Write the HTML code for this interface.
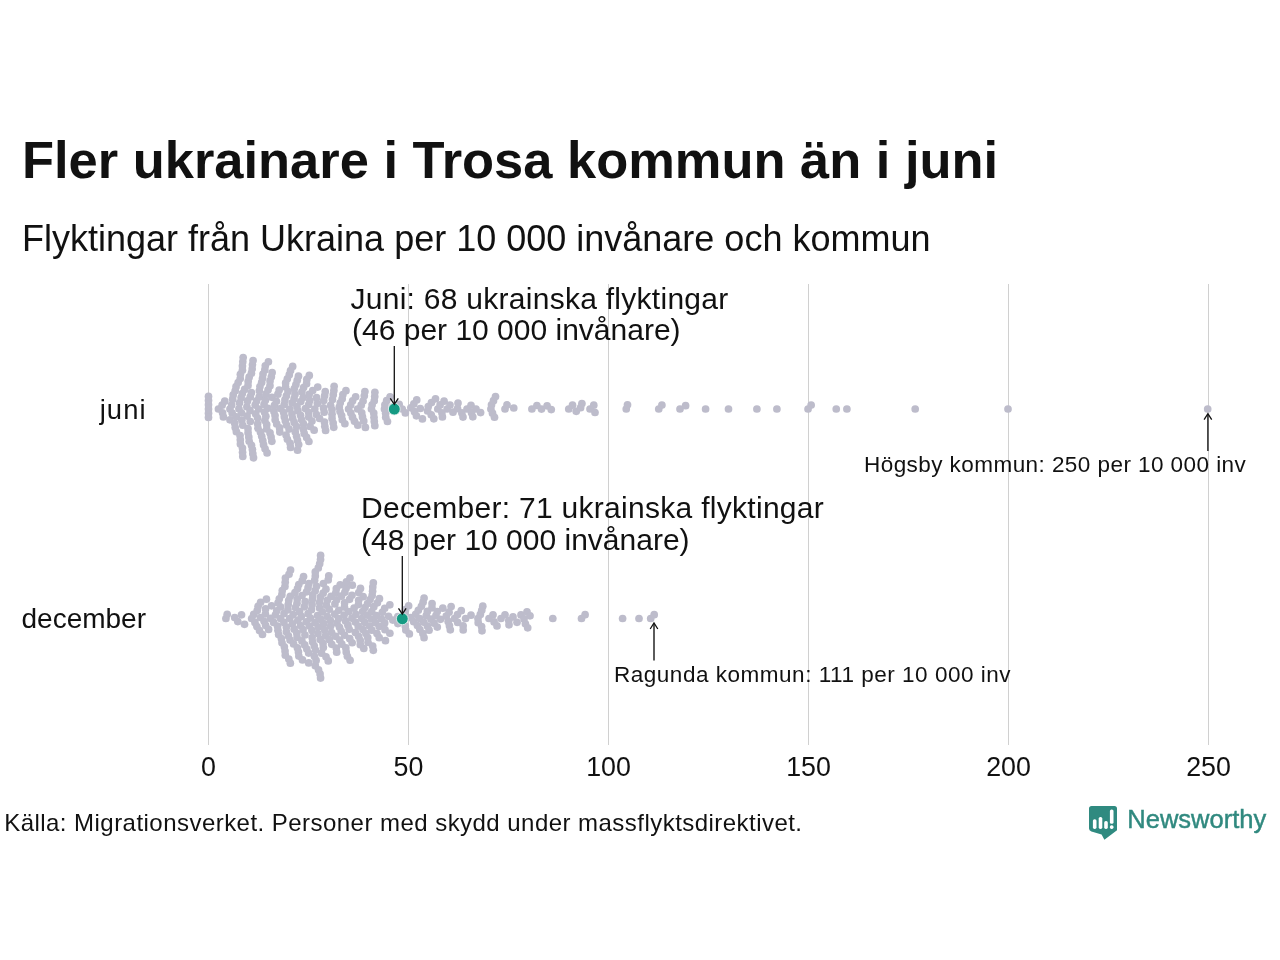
<!DOCTYPE html>
<html><head><meta charset="utf-8">
<style>
html,body{margin:0;padding:0;background:#fff;}
body{width:1280px;height:960px;overflow:hidden;}
svg{display:block;will-change:transform;}
text{font-family:"Liberation Sans",sans-serif;fill:#111;}
</style></head><body>
<svg width="1280" height="960" viewBox="0 0 1280 960">
<rect width="1280" height="960" fill="#fff"/>
<g stroke="#d0d0d0" stroke-width="1">
<line x1="208.5" y1="284" x2="208.5" y2="745"/>
<line x1="408.5" y1="284" x2="408.5" y2="745"/>
<line x1="608.5" y1="284" x2="608.5" y2="745"/>
<line x1="808.5" y1="284" x2="808.5" y2="745"/>
<line x1="1008.5" y1="284" x2="1008.5" y2="745"/>
<line x1="1208.5" y1="284" x2="1208.5" y2="745"/>
</g>
<g fill="#bdbccb"><circle cx="208.50" cy="409.00" r="3.85"/><circle cx="208.50" cy="404.80" r="3.85"/><circle cx="208.50" cy="413.20" r="3.85"/><circle cx="208.50" cy="400.60" r="3.85"/><circle cx="208.50" cy="417.40" r="3.85"/><circle cx="208.50" cy="396.40" r="3.85"/><circle cx="218.45" cy="409.00" r="3.85"/><circle cx="222.12" cy="405.16" r="3.85"/><circle cx="222.55" cy="412.74" r="3.85"/><circle cx="223.40" cy="416.92" r="3.85"/><circle cx="224.75" cy="401.15" r="3.85"/><circle cx="229.95" cy="409.00" r="3.85"/><circle cx="229.97" cy="419.79" r="3.85"/><circle cx="231.67" cy="404.88" r="3.85"/><circle cx="232.16" cy="413.07" r="3.85"/><circle cx="232.66" cy="399.15" r="3.85"/><circle cx="233.20" cy="394.95" r="3.85"/><circle cx="234.71" cy="423.36" r="3.85"/><circle cx="235.19" cy="390.86" r="3.85"/><circle cx="235.22" cy="427.55" r="3.85"/><circle cx="236.05" cy="386.68" r="3.85"/><circle cx="236.30" cy="416.80" r="3.85"/><circle cx="236.36" cy="431.72" r="3.85"/><circle cx="238.15" cy="382.59" r="3.85"/><circle cx="238.93" cy="408.73" r="3.85"/><circle cx="239.54" cy="402.84" r="3.85"/><circle cx="240.04" cy="435.55" r="3.85"/><circle cx="240.23" cy="378.51" r="3.85"/><circle cx="240.31" cy="439.75" r="3.85"/><circle cx="240.39" cy="374.31" r="3.85"/><circle cx="240.41" cy="443.95" r="3.85"/><circle cx="241.11" cy="397.70" r="3.85"/><circle cx="241.44" cy="412.76" r="3.85"/><circle cx="241.80" cy="420.13" r="3.85"/><circle cx="242.30" cy="393.53" r="3.85"/><circle cx="242.42" cy="370.22" r="3.85"/><circle cx="242.44" cy="448.04" r="3.85"/><circle cx="242.45" cy="366.02" r="3.85"/><circle cx="242.56" cy="452.24" r="3.85"/><circle cx="242.77" cy="425.23" r="3.85"/><circle cx="242.78" cy="361.82" r="3.85"/><circle cx="242.79" cy="456.44" r="3.85"/><circle cx="243.16" cy="357.62" r="3.85"/><circle cx="244.60" cy="389.47" r="3.85"/><circle cx="246.90" cy="406.77" r="3.85"/><circle cx="247.08" cy="416.03" r="3.85"/><circle cx="247.52" cy="400.90" r="3.85"/><circle cx="247.99" cy="428.66" r="3.85"/><circle cx="248.00" cy="385.59" r="3.85"/><circle cx="248.07" cy="432.85" r="3.85"/><circle cx="248.17" cy="381.39" r="3.85"/><circle cx="248.81" cy="437.04" r="3.85"/><circle cx="249.15" cy="377.21" r="3.85"/><circle cx="249.19" cy="441.24" r="3.85"/><circle cx="250.00" cy="410.71" r="3.85"/><circle cx="250.21" cy="396.89" r="3.85"/><circle cx="250.30" cy="421.51" r="3.85"/><circle cx="251.38" cy="392.72" r="3.85"/><circle cx="251.41" cy="373.15" r="3.85"/><circle cx="251.48" cy="445.30" r="3.85"/><circle cx="252.21" cy="368.96" r="3.85"/><circle cx="252.43" cy="449.47" r="3.85"/><circle cx="252.48" cy="364.77" r="3.85"/><circle cx="252.82" cy="453.67" r="3.85"/><circle cx="253.05" cy="360.57" r="3.85"/><circle cx="253.52" cy="457.86" r="3.85"/><circle cx="255.17" cy="405.11" r="3.85"/><circle cx="255.72" cy="413.95" r="3.85"/><circle cx="256.53" cy="400.96" r="3.85"/><circle cx="257.56" cy="418.07" r="3.85"/><circle cx="257.60" cy="423.96" r="3.85"/><circle cx="257.92" cy="428.16" r="3.85"/><circle cx="258.71" cy="409.00" r="3.85"/><circle cx="259.22" cy="396.95" r="3.85"/><circle cx="259.35" cy="390.77" r="3.85"/><circle cx="259.95" cy="386.58" r="3.85"/><circle cx="260.49" cy="432.18" r="3.85"/><circle cx="261.65" cy="382.45" r="3.85"/><circle cx="261.74" cy="436.34" r="3.85"/><circle cx="262.56" cy="378.27" r="3.85"/><circle cx="262.78" cy="440.51" r="3.85"/><circle cx="263.01" cy="374.08" r="3.85"/><circle cx="263.54" cy="444.70" r="3.85"/><circle cx="264.05" cy="404.43" r="3.85"/><circle cx="264.56" cy="412.19" r="3.85"/><circle cx="264.83" cy="420.54" r="3.85"/><circle cx="264.83" cy="369.97" r="3.85"/><circle cx="265.08" cy="448.84" r="3.85"/><circle cx="265.29" cy="365.77" r="3.85"/><circle cx="265.40" cy="400.24" r="3.85"/><circle cx="265.87" cy="416.34" r="3.85"/><circle cx="265.94" cy="394.16" r="3.85"/><circle cx="266.69" cy="424.65" r="3.85"/><circle cx="266.73" cy="429.02" r="3.85"/><circle cx="267.07" cy="452.93" r="3.85"/><circle cx="267.91" cy="408.29" r="3.85"/><circle cx="268.09" cy="389.77" r="3.85"/><circle cx="268.40" cy="361.83" r="3.85"/><circle cx="269.97" cy="385.67" r="3.85"/><circle cx="270.01" cy="432.93" r="3.85"/><circle cx="270.03" cy="380.93" r="3.85"/><circle cx="271.09" cy="437.10" r="3.85"/><circle cx="271.36" cy="376.77" r="3.85"/><circle cx="271.86" cy="441.28" r="3.85"/><circle cx="271.95" cy="397.36" r="3.85"/><circle cx="272.14" cy="372.59" r="3.85"/><circle cx="273.94" cy="411.41" r="3.85"/><circle cx="274.41" cy="405.38" r="3.85"/><circle cx="275.04" cy="415.57" r="3.85"/><circle cx="275.16" cy="419.77" r="3.85"/><circle cx="276.47" cy="401.30" r="3.85"/><circle cx="276.70" cy="423.91" r="3.85"/><circle cx="277.91" cy="394.21" r="3.85"/><circle cx="279.16" cy="390.05" r="3.85"/><circle cx="279.61" cy="427.89" r="3.85"/><circle cx="279.84" cy="432.09" r="3.85"/><circle cx="280.55" cy="408.55" r="3.85"/><circle cx="283.65" cy="412.50" r="3.85"/><circle cx="284.22" cy="404.72" r="3.85"/><circle cx="284.30" cy="416.69" r="3.85"/><circle cx="284.94" cy="399.88" r="3.85"/><circle cx="285.32" cy="420.86" r="3.85"/><circle cx="285.61" cy="387.12" r="3.85"/><circle cx="285.63" cy="382.92" r="3.85"/><circle cx="286.08" cy="435.11" r="3.85"/><circle cx="286.40" cy="395.74" r="3.85"/><circle cx="286.53" cy="425.02" r="3.85"/><circle cx="287.35" cy="378.80" r="3.85"/><circle cx="287.43" cy="439.27" r="3.85"/><circle cx="288.04" cy="391.61" r="3.85"/><circle cx="289.04" cy="429.05" r="3.85"/><circle cx="289.29" cy="374.69" r="3.85"/><circle cx="289.83" cy="409.00" r="3.85"/><circle cx="290.09" cy="443.28" r="3.85"/><circle cx="290.56" cy="370.54" r="3.85"/><circle cx="290.57" cy="447.47" r="3.85"/><circle cx="291.96" cy="414.10" r="3.85"/><circle cx="292.14" cy="402.73" r="3.85"/><circle cx="292.62" cy="418.29" r="3.85"/><circle cx="292.66" cy="366.45" r="3.85"/><circle cx="294.10" cy="398.63" r="3.85"/><circle cx="294.19" cy="422.43" r="3.85"/><circle cx="294.36" cy="388.62" r="3.85"/><circle cx="295.03" cy="394.45" r="3.85"/><circle cx="295.30" cy="432.07" r="3.85"/><circle cx="295.92" cy="384.48" r="3.85"/><circle cx="296.57" cy="426.48" r="3.85"/><circle cx="296.59" cy="436.23" r="3.85"/><circle cx="296.95" cy="406.43" r="3.85"/><circle cx="297.24" cy="380.33" r="3.85"/><circle cx="297.49" cy="440.41" r="3.85"/><circle cx="297.54" cy="450.13" r="3.85"/><circle cx="297.90" cy="410.86" r="3.85"/><circle cx="298.43" cy="376.16" r="3.85"/><circle cx="298.66" cy="444.57" r="3.85"/><circle cx="300.55" cy="415.37" r="3.85"/><circle cx="300.80" cy="401.58" r="3.85"/><circle cx="301.50" cy="419.54" r="3.85"/><circle cx="301.91" cy="391.74" r="3.85"/><circle cx="303.20" cy="397.53" r="3.85"/><circle cx="303.37" cy="423.65" r="3.85"/><circle cx="303.40" cy="429.21" r="3.85"/><circle cx="303.58" cy="387.62" r="3.85"/><circle cx="304.19" cy="433.40" r="3.85"/><circle cx="305.43" cy="408.57" r="3.85"/><circle cx="306.54" cy="383.65" r="3.85"/><circle cx="306.63" cy="437.44" r="3.85"/><circle cx="306.82" cy="379.45" r="3.85"/><circle cx="308.66" cy="412.49" r="3.85"/><circle cx="308.71" cy="404.66" r="3.85"/><circle cx="308.77" cy="417.07" r="3.85"/><circle cx="308.91" cy="441.50" r="3.85"/><circle cx="309.18" cy="394.39" r="3.85"/><circle cx="309.29" cy="375.41" r="3.85"/><circle cx="309.81" cy="400.49" r="3.85"/><circle cx="310.13" cy="426.42" r="3.85"/><circle cx="311.96" cy="421.00" r="3.85"/><circle cx="312.71" cy="390.53" r="3.85"/><circle cx="314.14" cy="430.18" r="3.85"/><circle cx="314.80" cy="409.00" r="3.85"/><circle cx="316.49" cy="414.56" r="3.85"/><circle cx="316.57" cy="397.71" r="3.85"/><circle cx="317.40" cy="403.56" r="3.85"/><circle cx="317.71" cy="387.04" r="3.85"/><circle cx="319.63" cy="418.50" r="3.85"/><circle cx="323.52" cy="407.96" r="3.85"/><circle cx="323.71" cy="400.57" r="3.85"/><circle cx="324.16" cy="412.15" r="3.85"/><circle cx="324.48" cy="422.03" r="3.85"/><circle cx="324.63" cy="395.85" r="3.85"/><circle cx="324.82" cy="426.23" r="3.85"/><circle cx="325.23" cy="391.66" r="3.85"/><circle cx="325.60" cy="430.41" r="3.85"/><circle cx="330.60" cy="405.37" r="3.85"/><circle cx="331.99" cy="409.52" r="3.85"/><circle cx="332.04" cy="414.18" r="3.85"/><circle cx="332.06" cy="418.38" r="3.85"/><circle cx="332.45" cy="399.56" r="3.85"/><circle cx="333.18" cy="423.12" r="3.85"/><circle cx="333.27" cy="394.67" r="3.85"/><circle cx="333.75" cy="427.31" r="3.85"/><circle cx="333.87" cy="390.48" r="3.85"/><circle cx="334.12" cy="386.28" r="3.85"/><circle cx="339.27" cy="407.05" r="3.85"/><circle cx="340.02" cy="411.42" r="3.85"/><circle cx="340.25" cy="402.87" r="3.85"/><circle cx="341.62" cy="415.55" r="3.85"/><circle cx="342.18" cy="398.77" r="3.85"/><circle cx="342.32" cy="419.74" r="3.85"/><circle cx="342.89" cy="394.58" r="3.85"/><circle cx="344.89" cy="423.76" r="3.85"/><circle cx="345.93" cy="390.63" r="3.85"/><circle cx="348.59" cy="409.00" r="3.85"/><circle cx="350.72" cy="404.92" r="3.85"/><circle cx="350.85" cy="413.06" r="3.85"/><circle cx="352.49" cy="417.19" r="3.85"/><circle cx="352.61" cy="400.81" r="3.85"/><circle cx="354.51" cy="421.29" r="3.85"/><circle cx="355.62" cy="396.86" r="3.85"/><circle cx="357.65" cy="409.00" r="3.85"/><circle cx="357.80" cy="425.20" r="3.85"/><circle cx="361.22" cy="405.15" r="3.85"/><circle cx="361.74" cy="412.74" r="3.85"/><circle cx="362.48" cy="416.93" r="3.85"/><circle cx="363.08" cy="401.04" r="3.85"/><circle cx="363.75" cy="421.08" r="3.85"/><circle cx="364.31" cy="395.76" r="3.85"/><circle cx="364.90" cy="391.57" r="3.85"/><circle cx="365.41" cy="427.44" r="3.85"/><circle cx="371.45" cy="409.00" r="3.85"/><circle cx="372.14" cy="404.81" r="3.85"/><circle cx="373.75" cy="413.06" r="3.85"/><circle cx="374.00" cy="417.26" r="3.85"/><circle cx="374.27" cy="400.73" r="3.85"/><circle cx="374.29" cy="421.46" r="3.85"/><circle cx="374.71" cy="396.54" r="3.85"/><circle cx="374.84" cy="425.65" r="3.85"/><circle cx="374.87" cy="392.34" r="3.85"/><circle cx="384.47" cy="409.00" r="3.85"/><circle cx="384.90" cy="404.80" r="3.85"/><circle cx="385.65" cy="413.16" r="3.85"/><circle cx="385.73" cy="417.36" r="3.85"/><circle cx="386.65" cy="400.68" r="3.85"/><circle cx="387.46" cy="421.49" r="3.85"/><circle cx="390.08" cy="396.80" r="3.85"/><circle cx="392.54" cy="407.14" r="3.85"/><circle cx="394.07" cy="411.28" r="3.85"/><circle cx="399.14" cy="404.29" r="3.85"/><circle cx="402.23" cy="409.00" r="3.85"/><circle cx="405.36" cy="412.94" r="3.85"/><circle cx="410.88" cy="407.84" r="3.85"/><circle cx="413.83" cy="403.88" r="3.85"/><circle cx="414.48" cy="411.69" r="3.85"/><circle cx="416.42" cy="415.79" r="3.85"/><circle cx="416.72" cy="399.90" r="3.85"/><circle cx="420.30" cy="408.49" r="3.85"/><circle cx="422.40" cy="418.94" r="3.85"/><circle cx="427.60" cy="410.95" r="3.85"/><circle cx="428.27" cy="406.53" r="3.85"/><circle cx="431.22" cy="414.79" r="3.85"/><circle cx="431.44" cy="402.60" r="3.85"/><circle cx="433.80" cy="418.82" r="3.85"/><circle cx="435.51" cy="398.86" r="3.85"/><circle cx="437.80" cy="409.00" r="3.85"/><circle cx="440.10" cy="404.94" r="3.85"/><circle cx="441.87" cy="412.75" r="3.85"/><circle cx="442.41" cy="416.94" r="3.85"/><circle cx="444.08" cy="401.17" r="3.85"/><circle cx="447.13" cy="409.00" r="3.85"/><circle cx="449.99" cy="405.02" r="3.85"/><circle cx="453.00" cy="412.18" r="3.85"/><circle cx="457.53" cy="408.55" r="3.85"/><circle cx="458.00" cy="403.11" r="3.85"/><circle cx="461.87" cy="412.88" r="3.85"/><circle cx="463.00" cy="417.05" r="3.85"/><circle cx="467.00" cy="409.00" r="3.85"/><circle cx="471.00" cy="405.24" r="3.85"/><circle cx="471.53" cy="412.63" r="3.85"/><circle cx="472.80" cy="416.79" r="3.85"/><circle cx="476.00" cy="408.98" r="3.85"/><circle cx="480.60" cy="412.59" r="3.85"/><circle cx="490.90" cy="409.00" r="3.85"/><circle cx="491.50" cy="404.81" r="3.85"/><circle cx="492.50" cy="413.13" r="3.85"/><circle cx="493.50" cy="400.71" r="3.85"/><circle cx="494.50" cy="417.23" r="3.85"/><circle cx="495.50" cy="396.62" r="3.85"/><circle cx="505.00" cy="409.00" r="3.85"/><circle cx="507.00" cy="404.91" r="3.85"/><circle cx="513.75" cy="408.02" r="3.85"/><circle cx="531.90" cy="409.00" r="3.85"/><circle cx="536.90" cy="405.51" r="3.85"/><circle cx="541.50" cy="409.12" r="3.85"/><circle cx="547.10" cy="405.83" r="3.85"/><circle cx="551.25" cy="409.56" r="3.85"/><circle cx="568.75" cy="409.00" r="3.85"/><circle cx="572.50" cy="405.18" r="3.85"/><circle cx="576.25" cy="411.32" r="3.85"/><circle cx="580.60" cy="407.64" r="3.85"/><circle cx="581.90" cy="403.49" r="3.85"/><circle cx="590.00" cy="409.00" r="3.85"/><circle cx="593.75" cy="405.18" r="3.85"/><circle cx="595.00" cy="412.49" r="3.85"/><circle cx="626.25" cy="409.00" r="3.85"/><circle cx="627.50" cy="404.84" r="3.85"/><circle cx="658.75" cy="409.00" r="3.85"/><circle cx="661.90" cy="405.07" r="3.85"/><circle cx="680.00" cy="409.00" r="3.85"/><circle cx="685.60" cy="405.71" r="3.85"/><circle cx="705.60" cy="409.00" r="3.85"/><circle cx="728.50" cy="409.00" r="3.85"/><circle cx="756.90" cy="409.00" r="3.85"/><circle cx="776.90" cy="409.00" r="3.85"/><circle cx="808.05" cy="409.00" r="3.85"/><circle cx="811.15" cy="405.06" r="3.85"/><circle cx="836.25" cy="409.00" r="3.85"/><circle cx="846.90" cy="409.00" r="3.85"/><circle cx="915.20" cy="409.00" r="3.85"/><circle cx="1008.00" cy="409.00" r="3.85"/><circle cx="1207.70" cy="409.00" r="3.85"/><circle cx="225.90" cy="618.50" r="3.85"/><circle cx="227.20" cy="614.34" r="3.85"/><circle cx="234.70" cy="617.62" r="3.85"/><circle cx="237.80" cy="621.56" r="3.85"/><circle cx="241.50" cy="614.87" r="3.85"/><circle cx="244.50" cy="624.37" r="3.85"/><circle cx="251.67" cy="618.50" r="3.85"/><circle cx="253.70" cy="614.41" r="3.85"/><circle cx="254.95" cy="622.41" r="3.85"/><circle cx="256.93" cy="626.51" r="3.85"/><circle cx="257.26" cy="610.55" r="3.85"/><circle cx="258.08" cy="606.37" r="3.85"/><circle cx="259.51" cy="630.53" r="3.85"/><circle cx="260.42" cy="617.50" r="3.85"/><circle cx="260.60" cy="602.34" r="3.85"/><circle cx="262.47" cy="634.50" r="3.85"/><circle cx="264.09" cy="621.33" r="3.85"/><circle cx="265.38" cy="614.00" r="3.85"/><circle cx="265.56" cy="608.93" r="3.85"/><circle cx="265.67" cy="625.47" r="3.85"/><circle cx="266.41" cy="599.13" r="3.85"/><circle cx="268.62" cy="629.44" r="3.85"/><circle cx="270.60" cy="618.43" r="3.85"/><circle cx="271.57" cy="605.81" r="3.85"/><circle cx="273.63" cy="622.39" r="3.85"/><circle cx="275.45" cy="614.90" r="3.85"/><circle cx="276.71" cy="610.74" r="3.85"/><circle cx="277.57" cy="626.16" r="3.85"/><circle cx="277.95" cy="630.36" r="3.85"/><circle cx="278.05" cy="602.89" r="3.85"/><circle cx="278.63" cy="634.55" r="3.85"/><circle cx="279.31" cy="598.73" r="3.85"/><circle cx="280.53" cy="618.50" r="3.85"/><circle cx="280.77" cy="606.99" r="3.85"/><circle cx="281.38" cy="638.55" r="3.85"/><circle cx="281.85" cy="594.70" r="3.85"/><circle cx="282.01" cy="642.74" r="3.85"/><circle cx="282.27" cy="590.51" r="3.85"/><circle cx="283.89" cy="622.40" r="3.85"/><circle cx="284.03" cy="613.63" r="3.85"/><circle cx="284.36" cy="646.79" r="3.85"/><circle cx="284.93" cy="586.50" r="3.85"/><circle cx="285.04" cy="650.98" r="3.85"/><circle cx="285.21" cy="582.30" r="3.85"/><circle cx="285.32" cy="655.18" r="3.85"/><circle cx="285.41" cy="578.10" r="3.85"/><circle cx="286.35" cy="627.08" r="3.85"/><circle cx="286.38" cy="631.84" r="3.85"/><circle cx="287.94" cy="609.84" r="3.85"/><circle cx="288.20" cy="604.62" r="3.85"/><circle cx="288.44" cy="635.93" r="3.85"/><circle cx="288.73" cy="600.43" r="3.85"/><circle cx="288.78" cy="659.05" r="3.85"/><circle cx="289.01" cy="574.25" r="3.85"/><circle cx="289.71" cy="618.50" r="3.85"/><circle cx="290.05" cy="640.06" r="3.85"/><circle cx="290.28" cy="596.29" r="3.85"/><circle cx="290.34" cy="663.19" r="3.85"/><circle cx="290.55" cy="570.11" r="3.85"/><circle cx="292.34" cy="623.84" r="3.85"/><circle cx="293.17" cy="614.62" r="3.85"/><circle cx="293.59" cy="643.92" r="3.85"/><circle cx="294.15" cy="629.18" r="3.85"/><circle cx="294.96" cy="592.70" r="3.85"/><circle cx="295.40" cy="607.49" r="3.85"/><circle cx="296.83" cy="633.19" r="3.85"/><circle cx="296.99" cy="603.36" r="3.85"/><circle cx="297.07" cy="637.39" r="3.85"/><circle cx="297.23" cy="599.04" r="3.85"/><circle cx="297.40" cy="647.73" r="3.85"/><circle cx="297.50" cy="588.67" r="3.85"/><circle cx="297.83" cy="620.31" r="3.85"/><circle cx="298.44" cy="651.90" r="3.85"/><circle cx="298.78" cy="584.51" r="3.85"/><circle cx="298.85" cy="656.09" r="3.85"/><circle cx="299.56" cy="611.66" r="3.85"/><circle cx="300.51" cy="625.61" r="3.85"/><circle cx="301.31" cy="616.44" r="3.85"/><circle cx="301.91" cy="640.93" r="3.85"/><circle cx="302.11" cy="595.52" r="3.85"/><circle cx="302.26" cy="580.64" r="3.85"/><circle cx="302.49" cy="659.93" r="3.85"/><circle cx="303.09" cy="629.67" r="3.85"/><circle cx="303.54" cy="576.49" r="3.85"/><circle cx="304.27" cy="606.79" r="3.85"/><circle cx="304.72" cy="644.92" r="3.85"/><circle cx="304.94" cy="635.01" r="3.85"/><circle cx="305.19" cy="601.63" r="3.85"/><circle cx="306.23" cy="621.82" r="3.85"/><circle cx="306.54" cy="591.86" r="3.85"/><circle cx="306.83" cy="649.00" r="3.85"/><circle cx="308.07" cy="613.66" r="3.85"/><circle cx="308.08" cy="587.72" r="3.85"/><circle cx="308.65" cy="653.12" r="3.85"/><circle cx="308.73" cy="662.96" r="3.85"/><circle cx="308.89" cy="583.54" r="3.85"/><circle cx="309.47" cy="626.01" r="3.85"/><circle cx="310.42" cy="618.11" r="3.85"/><circle cx="311.45" cy="609.77" r="3.85"/><circle cx="311.92" cy="630.47" r="3.85"/><circle cx="312.09" cy="604.71" r="3.85"/><circle cx="312.13" cy="637.54" r="3.85"/><circle cx="312.43" cy="599.14" r="3.85"/><circle cx="312.55" cy="641.73" r="3.85"/><circle cx="312.70" cy="594.94" r="3.85"/><circle cx="314.23" cy="645.86" r="3.85"/><circle cx="314.40" cy="656.35" r="3.85"/><circle cx="314.63" cy="580.30" r="3.85"/><circle cx="315.04" cy="622.69" r="3.85"/><circle cx="315.18" cy="590.68" r="3.85"/><circle cx="315.29" cy="576.11" r="3.85"/><circle cx="315.30" cy="571.91" r="3.85"/><circle cx="315.33" cy="665.82" r="3.85"/><circle cx="315.51" cy="650.12" r="3.85"/><circle cx="316.11" cy="660.47" r="3.85"/><circle cx="316.50" cy="586.23" r="3.85"/><circle cx="317.51" cy="615.52" r="3.85"/><circle cx="317.95" cy="633.58" r="3.85"/><circle cx="318.25" cy="626.93" r="3.85"/><circle cx="318.29" cy="567.95" r="3.85"/><circle cx="318.53" cy="669.74" r="3.85"/><circle cx="319.53" cy="607.91" r="3.85"/><circle cx="319.55" cy="602.36" r="3.85"/><circle cx="319.67" cy="563.80" r="3.85"/><circle cx="320.07" cy="673.88" r="3.85"/><circle cx="320.18" cy="639.42" r="3.85"/><circle cx="320.39" cy="597.18" r="3.85"/><circle cx="320.53" cy="559.62" r="3.85"/><circle cx="320.57" cy="678.07" r="3.85"/><circle cx="320.61" cy="555.42" r="3.85"/><circle cx="320.89" cy="619.41" r="3.85"/><circle cx="321.64" cy="653.19" r="3.85"/><circle cx="322.33" cy="611.97" r="3.85"/><circle cx="323.01" cy="643.41" r="3.85"/><circle cx="323.15" cy="593.18" r="3.85"/><circle cx="323.30" cy="647.60" r="3.85"/><circle cx="323.36" cy="583.52" r="3.85"/><circle cx="323.83" cy="623.58" r="3.85"/><circle cx="324.66" cy="629.88" r="3.85"/><circle cx="325.42" cy="635.93" r="3.85"/><circle cx="325.93" cy="589.19" r="3.85"/><circle cx="326.02" cy="656.86" r="3.85"/><circle cx="326.35" cy="605.17" r="3.85"/><circle cx="327.26" cy="616.44" r="3.85"/><circle cx="327.31" cy="600.24" r="3.85"/><circle cx="328.19" cy="579.97" r="3.85"/><circle cx="328.23" cy="660.93" r="3.85"/><circle cx="328.75" cy="575.78" r="3.85"/><circle cx="329.25" cy="609.28" r="3.85"/><circle cx="329.43" cy="639.69" r="3.85"/><circle cx="330.34" cy="620.39" r="3.85"/><circle cx="330.57" cy="626.36" r="3.85"/><circle cx="331.07" cy="596.42" r="3.85"/><circle cx="331.58" cy="632.56" r="3.85"/><circle cx="331.77" cy="644.36" r="3.85"/><circle cx="334.71" cy="614.08" r="3.85"/><circle cx="334.92" cy="603.89" r="3.85"/><circle cx="335.63" cy="636.31" r="3.85"/><circle cx="335.81" cy="592.85" r="3.85"/><circle cx="336.25" cy="648.00" r="3.85"/><circle cx="336.32" cy="588.66" r="3.85"/><circle cx="336.67" cy="599.77" r="3.85"/><circle cx="336.69" cy="652.20" r="3.85"/><circle cx="337.00" cy="623.22" r="3.85"/><circle cx="338.52" cy="618.50" r="3.85"/><circle cx="338.77" cy="610.34" r="3.85"/><circle cx="339.53" cy="627.25" r="3.85"/><circle cx="339.73" cy="640.05" r="3.85"/><circle cx="340.19" cy="584.87" r="3.85"/><circle cx="341.25" cy="631.37" r="3.85"/><circle cx="341.40" cy="596.20" r="3.85"/><circle cx="341.85" cy="644.13" r="3.85"/><circle cx="344.04" cy="615.18" r="3.85"/><circle cx="344.44" cy="607.08" r="3.85"/><circle cx="344.61" cy="602.88" r="3.85"/><circle cx="344.67" cy="635.25" r="3.85"/><circle cx="344.82" cy="592.31" r="3.85"/><circle cx="345.56" cy="621.12" r="3.85"/><circle cx="345.86" cy="647.89" r="3.85"/><circle cx="346.06" cy="588.16" r="3.85"/><circle cx="346.22" cy="652.09" r="3.85"/><circle cx="346.44" cy="581.84" r="3.85"/><circle cx="347.40" cy="656.25" r="3.85"/><circle cx="347.92" cy="625.17" r="3.85"/><circle cx="348.74" cy="611.60" r="3.85"/><circle cx="349.21" cy="629.33" r="3.85"/><circle cx="349.53" cy="599.36" r="3.85"/><circle cx="349.74" cy="638.72" r="3.85"/><circle cx="349.96" cy="577.98" r="3.85"/><circle cx="350.09" cy="660.26" r="3.85"/><circle cx="351.93" cy="618.15" r="3.85"/><circle cx="351.94" cy="595.31" r="3.85"/><circle cx="352.12" cy="642.77" r="3.85"/><circle cx="352.30" cy="585.13" r="3.85"/><circle cx="354.05" cy="608.21" r="3.85"/><circle cx="355.32" cy="622.04" r="3.85"/><circle cx="355.40" cy="632.38" r="3.85"/><circle cx="355.91" cy="614.39" r="3.85"/><circle cx="358.17" cy="626.03" r="3.85"/><circle cx="358.46" cy="604.55" r="3.85"/><circle cx="358.55" cy="636.31" r="3.85"/><circle cx="358.68" cy="600.35" r="3.85"/><circle cx="358.73" cy="592.56" r="3.85"/><circle cx="360.22" cy="640.44" r="3.85"/><circle cx="360.30" cy="644.64" r="3.85"/><circle cx="360.47" cy="588.44" r="3.85"/><circle cx="361.76" cy="618.50" r="3.85"/><circle cx="362.63" cy="611.59" r="3.85"/><circle cx="362.91" cy="629.60" r="3.85"/><circle cx="363.15" cy="596.70" r="3.85"/><circle cx="363.80" cy="648.51" r="3.85"/><circle cx="364.68" cy="622.47" r="3.85"/><circle cx="365.04" cy="607.55" r="3.85"/><circle cx="365.87" cy="633.57" r="3.85"/><circle cx="367.34" cy="615.21" r="3.85"/><circle cx="367.56" cy="603.51" r="3.85"/><circle cx="367.78" cy="637.67" r="3.85"/><circle cx="368.06" cy="642.50" r="3.85"/><circle cx="369.37" cy="626.06" r="3.85"/><circle cx="370.12" cy="599.49" r="3.85"/><circle cx="371.27" cy="618.99" r="3.85"/><circle cx="371.73" cy="611.54" r="3.85"/><circle cx="371.82" cy="630.16" r="3.85"/><circle cx="372.14" cy="595.40" r="3.85"/><circle cx="372.60" cy="591.20" r="3.85"/><circle cx="372.66" cy="646.12" r="3.85"/><circle cx="372.76" cy="587.00" r="3.85"/><circle cx="373.31" cy="650.30" r="3.85"/><circle cx="373.33" cy="582.81" r="3.85"/><circle cx="373.82" cy="606.63" r="3.85"/><circle cx="375.53" cy="622.69" r="3.85"/><circle cx="376.43" cy="615.55" r="3.85"/><circle cx="376.98" cy="633.60" r="3.85"/><circle cx="377.40" cy="602.78" r="3.85"/><circle cx="379.15" cy="626.53" r="3.85"/><circle cx="379.21" cy="637.67" r="3.85"/><circle cx="379.43" cy="598.69" r="3.85"/><circle cx="381.56" cy="619.00" r="3.85"/><circle cx="382.31" cy="612.36" r="3.85"/><circle cx="384.65" cy="622.94" r="3.85"/><circle cx="384.70" cy="608.32" r="3.85"/><circle cx="385.00" cy="629.72" r="3.85"/><circle cx="385.46" cy="640.69" r="3.85"/><circle cx="388.55" cy="616.35" r="3.85"/><circle cx="389.84" cy="604.87" r="3.85"/><circle cx="389.87" cy="633.25" r="3.85"/><circle cx="392.84" cy="620.04" r="3.85"/><circle cx="397.83" cy="616.55" r="3.85"/><circle cx="397.86" cy="623.53" r="3.85"/><circle cx="402.98" cy="619.99" r="3.85"/><circle cx="404.77" cy="613.87" r="3.85"/><circle cx="405.30" cy="625.89" r="3.85"/><circle cx="405.52" cy="609.69" r="3.85"/><circle cx="405.82" cy="630.08" r="3.85"/><circle cx="408.63" cy="605.75" r="3.85"/><circle cx="409.36" cy="633.94" r="3.85"/><circle cx="410.55" cy="617.72" r="3.85"/><circle cx="413.71" cy="621.65" r="3.85"/><circle cx="415.65" cy="614.26" r="3.85"/><circle cx="417.42" cy="625.48" r="3.85"/><circle cx="418.33" cy="610.25" r="3.85"/><circle cx="419.67" cy="618.50" r="3.85"/><circle cx="419.87" cy="629.52" r="3.85"/><circle cx="421.38" cy="606.30" r="3.85"/><circle cx="422.88" cy="633.48" r="3.85"/><circle cx="423.09" cy="602.18" r="3.85"/><circle cx="423.80" cy="622.23" r="3.85"/><circle cx="424.04" cy="637.64" r="3.85"/><circle cx="424.07" cy="598.00" r="3.85"/><circle cx="426.24" cy="615.63" r="3.85"/><circle cx="427.35" cy="611.46" r="3.85"/><circle cx="427.42" cy="626.08" r="3.85"/><circle cx="429.04" cy="630.21" r="3.85"/><circle cx="430.99" cy="619.20" r="3.85"/><circle cx="431.94" cy="607.85" r="3.85"/><circle cx="432.06" cy="603.65" r="3.85"/><circle cx="434.04" cy="623.15" r="3.85"/><circle cx="435.94" cy="615.69" r="3.85"/><circle cx="437.27" cy="611.54" r="3.85"/><circle cx="437.28" cy="627.07" r="3.85"/><circle cx="440.39" cy="619.34" r="3.85"/><circle cx="442.80" cy="608.22" r="3.85"/><circle cx="446.23" cy="616.14" r="3.85"/><circle cx="448.15" cy="621.47" r="3.85"/><circle cx="449.05" cy="612.16" r="3.85"/><circle cx="449.42" cy="625.63" r="3.85"/><circle cx="450.31" cy="629.81" r="3.85"/><circle cx="451.12" cy="606.62" r="3.85"/><circle cx="454.59" cy="618.50" r="3.85"/><circle cx="457.50" cy="614.53" r="3.85"/><circle cx="457.65" cy="622.45" r="3.85"/><circle cx="461.27" cy="610.71" r="3.85"/><circle cx="463.13" cy="625.78" r="3.85"/><circle cx="463.20" cy="629.98" r="3.85"/><circle cx="465.61" cy="618.50" r="3.85"/><circle cx="471.00" cy="615.14" r="3.85"/><circle cx="477.98" cy="618.50" r="3.85"/><circle cx="478.19" cy="622.70" r="3.85"/><circle cx="480.32" cy="614.44" r="3.85"/><circle cx="481.59" cy="626.59" r="3.85"/><circle cx="481.75" cy="610.30" r="3.85"/><circle cx="482.01" cy="630.78" r="3.85"/><circle cx="482.79" cy="606.13" r="3.85"/><circle cx="489.00" cy="618.50" r="3.85"/><circle cx="493.00" cy="614.74" r="3.85"/><circle cx="494.11" cy="621.96" r="3.85"/><circle cx="497.00" cy="625.93" r="3.85"/><circle cx="501.00" cy="618.50" r="3.85"/><circle cx="505.00" cy="614.74" r="3.85"/><circle cx="508.80" cy="620.60" r="3.85"/><circle cx="509.00" cy="624.79" r="3.85"/><circle cx="513.00" cy="616.88" r="3.85"/><circle cx="517.00" cy="622.33" r="3.85"/><circle cx="521.00" cy="614.96" r="3.85"/><circle cx="524.00" cy="618.92" r="3.85"/><circle cx="525.42" cy="623.80" r="3.85"/><circle cx="527.00" cy="611.83" r="3.85"/><circle cx="527.69" cy="627.87" r="3.85"/><circle cx="530.00" cy="615.79" r="3.85"/><circle cx="552.80" cy="618.50" r="3.85"/><circle cx="581.50" cy="618.50" r="3.85"/><circle cx="585.10" cy="614.65" r="3.85"/><circle cx="622.60" cy="618.50" r="3.85"/><circle cx="639.00" cy="618.50" r="3.85"/><circle cx="650.70" cy="618.50" r="3.85"/><circle cx="654.20" cy="614.63" r="3.85"/></g>
<circle cx="394.3" cy="409.1" r="5.9" fill="#159a83" stroke="#e8f6f3" stroke-width="0.8"/>
<circle cx="402.3" cy="618.8" r="5.9" fill="#159a83" stroke="#e8f6f3" stroke-width="0.8"/>
<g fill="none" stroke="#111" stroke-width="1.3" stroke-linecap="butt" stroke-linejoin="miter">
<line x1="394.3" y1="346" x2="394.3" y2="403.5"/>
<polyline points="390.3,398.4 394.3,404.3 398.3,398.4"/>
<line x1="402.3" y1="556" x2="402.3" y2="613.2"/>
<polyline points="398.5,608.4 402.3,614 406.1,608.4"/>
</g>
<g fill="none" stroke="#333" stroke-width="1.6">
<line x1="1207.9" y1="414.5" x2="1207.9" y2="451"/>
<line x1="654" y1="624" x2="654" y2="660.5"/>
</g>
<g fill="none" stroke="#111" stroke-width="1.3">
<polyline points="1204.1,419.6 1207.9,413.6 1211.7,419.6"/>
<polyline points="650.2,629 654,623 657.8,629"/>
</g>
<text x="22" y="177.5" font-size="52.45" font-weight="bold">Fler ukrainare i Trosa kommun än i juni</text>
<text x="22" y="250.6" font-size="36">Flyktingar från Ukraina per 10 000 invånare och kommun</text>
<text x="350.5" y="309.4" font-size="30" letter-spacing="0.27">Juni: 68 ukrainska flyktingar</text>
<text x="352" y="340" font-size="30">(46 per 10 000 invånare)</text>
<text x="361" y="518.4" font-size="30" letter-spacing="0.29">December: 71 ukrainska flyktingar</text>
<text x="361" y="549.5" font-size="30">(48 per 10 000 invånare)</text>
<text x="146.7" y="419" font-size="27.4" text-anchor="end" letter-spacing="1.1">juni</text>
<text x="146" y="627.5" font-size="28" text-anchor="end">december</text>
<g font-size="26.8" text-anchor="middle">
<text x="208.5" y="776">0</text>
<text x="408.5" y="776">50</text>
<text x="608.5" y="776">100</text>
<text x="808.5" y="776">150</text>
<text x="1008.5" y="776">200</text>
<text x="1208.5" y="776">250</text>
</g>
<text x="864" y="472.3" font-size="22.5" letter-spacing="0.44">Högsby kommun: 250 per 10 000 inv</text>
<text x="614" y="681.7" font-size="22.5" letter-spacing="0.52">Ragunda kommun: 111 per 10 000 inv</text>
<text x="4.2" y="830.8" font-size="24" letter-spacing="0.46">Källa: Migrationsverket. Personer med skydd under massflyktsdirektivet.</text>
<path d="M1089,808.6 Q1089,806 1091.6,806 L1114.4,806 Q1117,806 1117,808.6 L1117,830.2 L1104.4,839.8 L1101.6,834.4 L1091.4,831.4 Q1089,830.8 1089,828.6 Z" fill="#2f8a80"/>
<g fill="#fff">
<rect x="1092.9" y="819.2" width="3.6" height="9.7" rx="1.6"/>
<rect x="1098.7" y="817" width="3.6" height="11.9" rx="1.6"/>
<rect x="1104.2" y="821.1" width="3.6" height="7.8" rx="1.6"/>
<rect x="1109.9" y="809.4" width="3.6" height="14.4" rx="1.6"/>
<rect x="1109.9" y="825.2" width="3.6" height="3.7" rx="1.6"/>
</g>
<text x="1127.3" y="827.5" font-size="25.5" style="fill:#30897f;stroke:#30897f;stroke-width:0.45">Newsworthy</text>
</svg>
</body></html>
